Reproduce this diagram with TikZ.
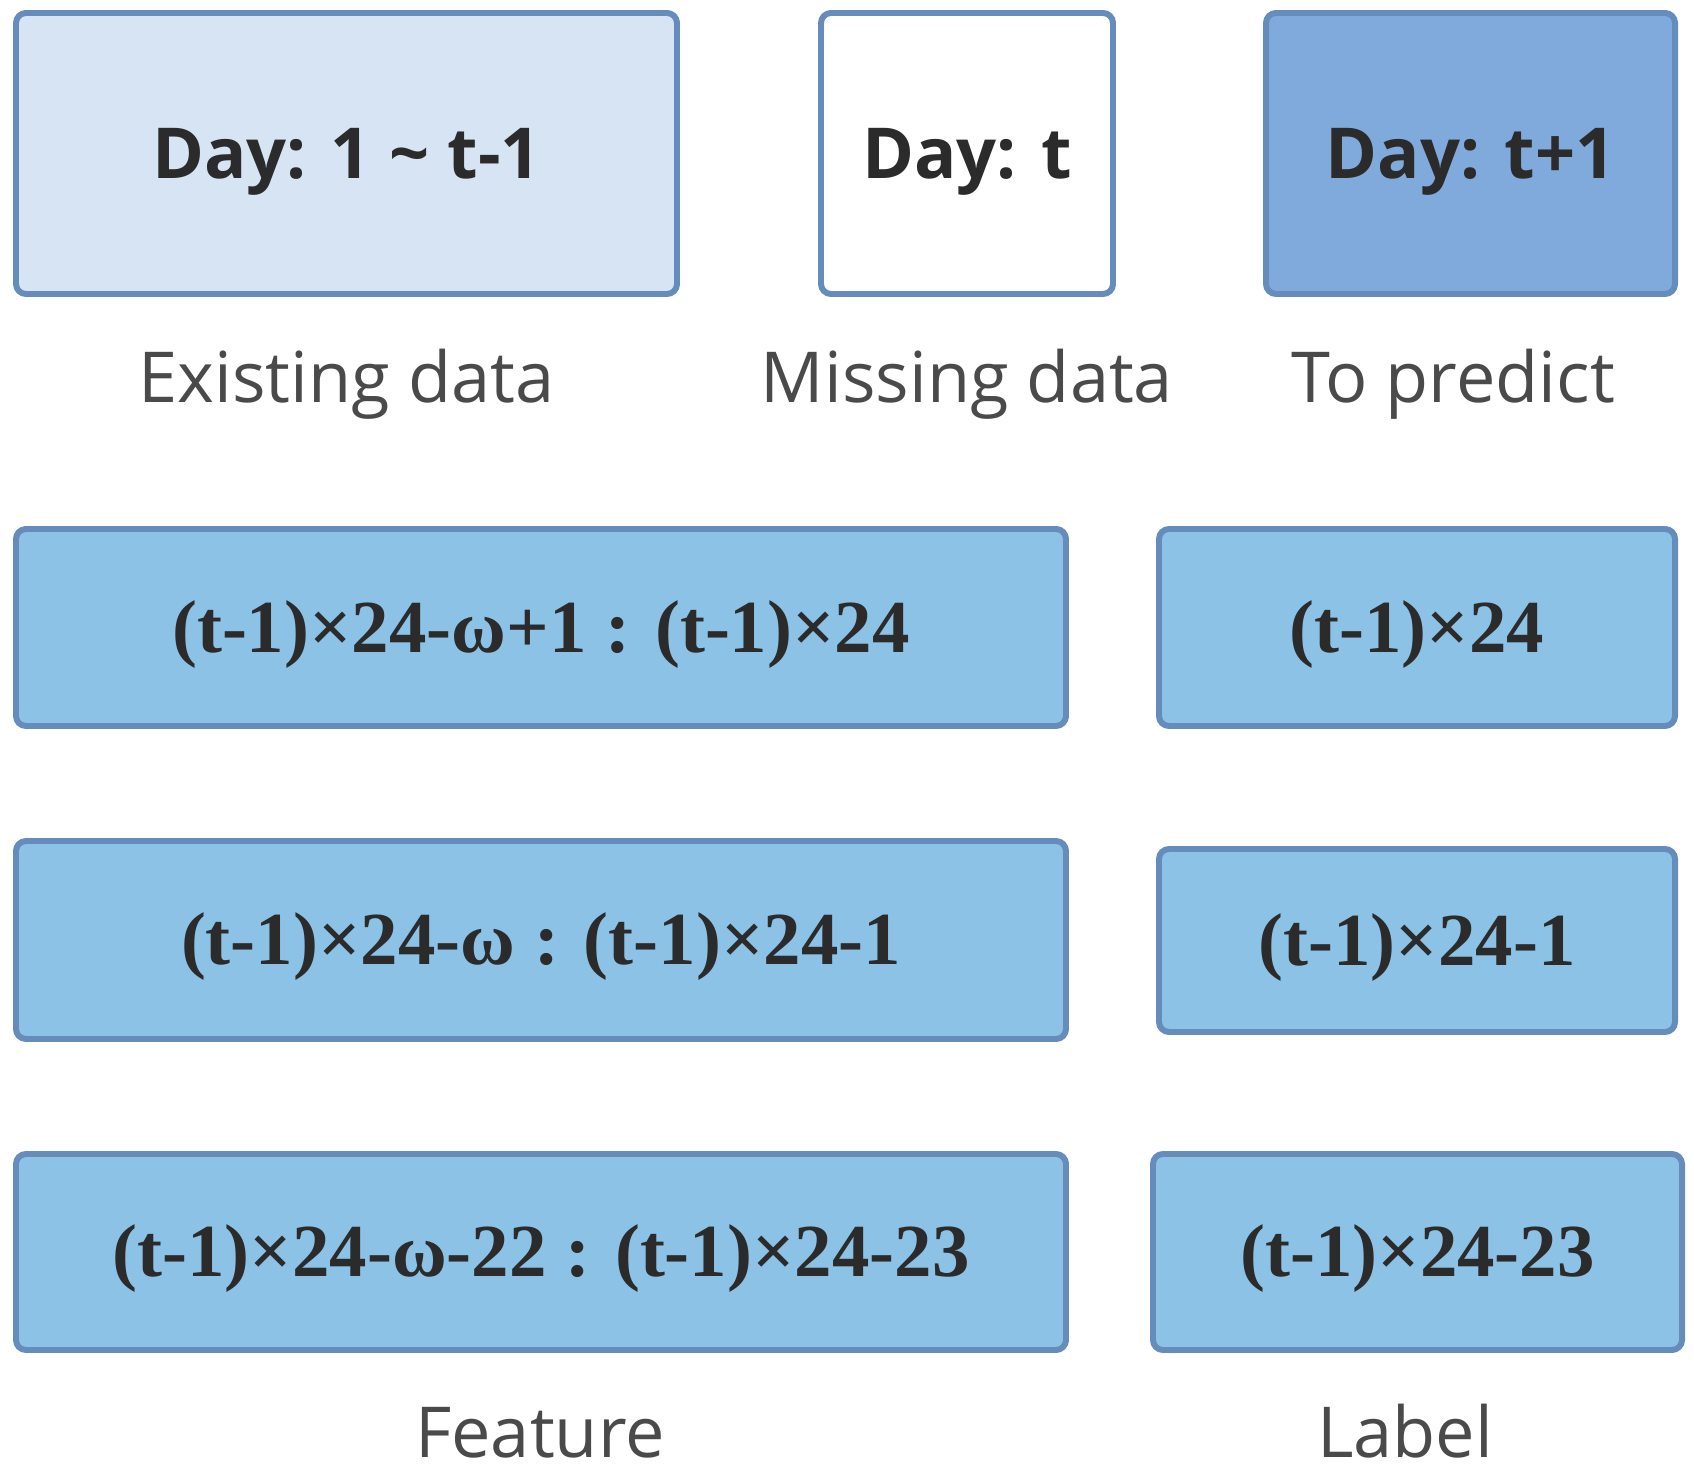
\documentclass[tikz,border=0pt]{standalone}
\usepackage{fontspec}
\setmainfont{Liberation Serif}
\setsansfont{Open Sans}
\usepackage{tikz}
\usetikzlibrary{positioning}
\usetikzlibrary{shapes,backgrounds,calc}
\definecolor{edgeblue}{HTML}{658CBB}
\definecolor{pastfill}{HTML}{D6E4F3}
\definecolor{predfill}{HTML}{7FAADB}
\definecolor{winfill}{HTML}{8BC2E6}
\definecolor{inktext}{HTML}{2B2B2B}
\definecolor{captext}{HTML}{4A4A4A}
\newcommand{\dayheight}{2.81cm}
\newcommand{\rowheight}{1.97cm}

\begin{document}
\begin{tikzpicture}[node distance=0 cm, outer sep = 0pt]
\tikzstyle{daybox}=[draw=edgeblue, line width=1.7pt, rounded corners=0.1cm, rectangle, minimum height=\dayheight, anchor=north west, inner sep=0pt, text height=14.3pt, text depth=0pt, text=inktext, font=\sffamily\bfseries\fontsize{20}{24}\selectfont]
\tikzstyle{winbox}=[draw=edgeblue, line width=1.7pt, rounded corners=0.1cm, rectangle, minimum height=\rowheight, fill=winfill, anchor=north west, inner sep=0pt, text height=14.1pt, text depth=0pt, text=inktext, font=\rmfamily\bfseries\fontsize{21.3}{24}\selectfont]
\tikzstyle{legend}=[anchor=base, inner sep=0pt, text=captext, font=\sffamily\fontsize{20}{24}\selectfont]

\useasboundingbox (0,0) rectangle (16.94,-14.70);

% days
\node[daybox, fill=pastfill, minimum width=6.61cm] (day0) at (0.16,-0.13) {Day: 1 \textasciitilde{} t-1};
\node[daybox, fill=white, minimum width=2.92cm] (day1) [right = 1.44cm of day0] {Day: t};
\node[daybox, fill=predfill, minimum width=4.09cm] (day2) [right = 1.53cm of day1] {Day: t+1};

\node[legend] (legend0) at (day0.south |- 0,-4.03) {Existing data};
\node[legend] (legend1) at (day1.south |- 0,-4.03) {Missing data};
\node[legend] (legend2) at (14.53,-4.03) {To predict};

% sliding windows
\node[winbox, minimum width=10.50cm] (feat0) at (0.16,-5.29) {(t-1)×24-ω+1 : (t-1)×24};
\node[winbox, minimum width=5.16cm] (lab0) at (11.59,-5.29) {(t-1)×24};

\node[winbox, minimum width=10.50cm, minimum height=1.98cm] (feat1) at (0.16,-8.41) {(t-1)×24-ω : (t-1)×24-1};
\node[winbox, minimum width=5.16cm, minimum height=1.83cm] (lab1) at (11.59,-8.49) {(t-1)×24-1};

\node[winbox, minimum width=10.50cm, minimum height=1.96cm] (feat2) at (0.16,-11.54) {(t-1)×24-ω-22 : (t-1)×24-23};
\node[winbox, minimum width=5.29cm, minimum height=1.96cm] (lab2) at (11.53,-11.54) {(t-1)×24-23};

\node[legend] (legend3) at (5.40,-14.57) {Feature};
\node[legend] (legend4) at (14.05,-14.57) {Label};

\end{tikzpicture}
\end{document}
